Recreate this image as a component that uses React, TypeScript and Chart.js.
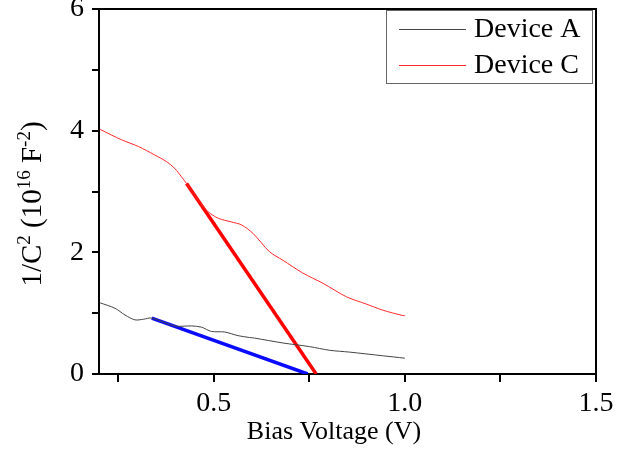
import React, { useEffect, useRef } from "react";
import { Chart, registerables } from "chart.js";

Chart.register(...registerables);

const deviceAX = [0.203, 0.242, 0.268, 0.294, 0.316, 0.338, 0.398, 0.442, 0.468, 0.494, 0.529, 0.564, 0.594, 0.607, 0.681, 0.751, 0.803, 0.855, 0.942, 1.0];
const deviceAY = [1.17, 1.08, 0.97, 0.89, 0.9, 0.92, 0.79, 0.79, 0.77, 0.7, 0.69, 0.63, 0.6, 0.59, 0.51, 0.45, 0.39, 0.36, 0.3, 0.26];

const deviceCX = [0.203, 0.259, 0.303, 0.346, 0.377, 0.398, 0.416, 0.429, 0.459, 0.485, 0.512, 0.546, 0.573, 0.603, 0.646, 0.681, 0.733, 0.786, 0.847, 0.899, 0.942, 0.995, 1.0];
const deviceCY = [4.02, 3.85, 3.74, 3.6, 3.49, 3.38, 3.24, 3.13, 2.86, 2.67, 2.56, 2.5, 2.45, 2.31, 2.01, 1.87, 1.66, 1.49, 1.27, 1.15, 1.05, 0.96, 0.96];

const fitAX = [0.338, 0.746];
const fitAY = [0.92, 0];
const fitCX = [0.429, 0.768];
const fitCY = [3.13, 0];

const xTicks = [0.25, 0.5, 0.75, 1.0, 1.25, 1.5];
const xLabelTicks = [0.5, 1.0, 1.5];
const yTicks = [0, 1, 2, 3, 4, 5, 6];
const yLabelTicks = [0, 2, 4, 6];

const legendLabels = ["Device A", "Device C"];
const legendColors = ["#444444", "#ff2a2a"];

const xTitle = "Bias Voltage (V)";
// y title pieces: [text, isSuperscript]
const yTitleParts: [string, boolean][] = [
  ["1/C", false],
  ["2", true],
  [" (10", false],
  ["16", true],
  [" F", false],
  ["-2", true],
  [")", false],
];

const pts = (xs: number[], ys: number[]) => xs.map((x, i) => ({ x, y: ys[i] }));

const SERIF = "'Liberation Serif', 'Times New Roman', serif";

const decorPlugin = {
  id: "decor",
  afterDraw(chart: any) {
    const { ctx, chartArea } = chart;
    const { left, right, top, bottom } = chartArea;
    ctx.save();
    // top and right frame
    ctx.strokeStyle = "#000";
    ctx.lineWidth = 2;
    ctx.beginPath();
    ctx.moveTo(left - 1, top);
    ctx.lineTo(right, top);
    ctx.lineTo(right, bottom + 1);
    ctx.stroke();

    // legend box
    const bx = 386, by = 10, bw = 206, bh = 73;
    ctx.fillStyle = "#fff";
    ctx.fillRect(bx, by, bw, bh);
    ctx.strokeStyle = "#666";
    ctx.lineWidth = 1;
    ctx.strokeRect(bx + 0.5, by + 0.5, bw, bh);
    ctx.font = `28px ${SERIF}`;
    ctx.textBaseline = "middle";
    ctx.textAlign = "left";
    legendLabels.forEach((lab, i) => {
      const yy = 29 + i * 36;
      ctx.strokeStyle = legendColors[i];
      ctx.lineWidth = 1;
      ctx.beginPath();
      ctx.moveTo(399, yy + 0.5);
      ctx.lineTo(466, yy + 0.5);
      ctx.stroke();
      ctx.fillStyle = "#000";
      ctx.fillText(lab, 474, yy + 1);
    });

    // x title
    ctx.fillStyle = "#000";
    ctx.font = `26px ${SERIF}`;
    ctx.textAlign = "center";
    ctx.textBaseline = "alphabetic";
    ctx.fillText(xTitle, 334, 439);

    // y title with superscripts
    const mainF = `29px ${SERIF}`;
    const supF = `19px ${SERIF}`;
    let total = 0;
    yTitleParts.forEach(([t, sup]) => {
      ctx.font = sup ? supF : mainF;
      total += ctx.measureText(t).width;
    });
    ctx.translate(41, 204);
    ctx.rotate(-Math.PI / 2);
    ctx.textAlign = "left";
    let px = -total / 2;
    yTitleParts.forEach(([t, sup]) => {
      ctx.font = sup ? supF : mainF;
      ctx.fillText(t, px, sup ? -11 : 0);
      px += ctx.measureText(t).width;
    });
    ctx.restore();
  },
};

export default function App() {
  const ref = useRef<HTMLCanvasElement | null>(null);
  useEffect(() => {
    if (!ref.current) return;
    const chart = new Chart(ref.current, {
      type: "scatter",
      data: {
        datasets: [
          {
            label: "Device A",
            data: pts(deviceAX, deviceAY),
            showLine: true,
            borderColor: "#444444",
            borderWidth: 1,
            pointRadius: 0,
            tension: 0.3,
          },
          {
            label: "Device C",
            data: pts(deviceCX, deviceCY),
            showLine: true,
            borderColor: "#ff2a2a",
            borderWidth: 1,
            pointRadius: 0,
            tension: 0.3,
          },
          {
            label: "Fit A",
            data: pts(fitAX, fitAY),
            showLine: true,
            borderColor: "#0a0aff",
            borderWidth: 3.5,
            pointRadius: 0,
          },
          {
            label: "Fit C",
            data: pts(fitCX, fitCY),
            showLine: true,
            borderColor: "#ff0000",
            borderWidth: 3.5,
            pointRadius: 0,
          },
        ],
      },
      options: {
        animation: false,
        responsive: false,
        maintainAspectRatio: false,
        layout: { padding: { top: 9, right: 30, left: 0, bottom: 0 } },
        plugins: { legend: { display: false }, tooltip: { enabled: false } },
        scales: {
          x: {
            type: "linear",
            min: 0.2,
            max: 1.5,
            afterBuildTicks: (s: any) => {
              s.ticks = xTicks.map((v) => ({ value: v }));
            },
            afterFit: (s: any) => {
              s.height = 76;
              s.paddingLeft = 0;
              s.paddingRight = 0;
            },
            ticks: {
              autoSkip: false,
              maxRotation: 0,
              color: "#000",
              padding: 5,
              font: { family: SERIF, size: 28 },
              callback: (v: any) => (xLabelTicks.some((t) => Math.abs(t - v) < 1e-6) ? Number(v).toFixed(1) : ""),
            },
            grid: { drawOnChartArea: false, drawTicks: true, tickLength: 8, color: "#000", lineWidth: 2 },
            border: { display: true, color: "#000", width: 2 },
          },
          y: {
            type: "linear",
            min: 0,
            max: 6,
            afterBuildTicks: (s: any) => {
              s.ticks = yTicks.map((v) => ({ value: v }));
            },
            afterFit: (s: any) => {
              s.width = 99;
              s.paddingTop = 0;
              s.paddingBottom = 0;
            },
            ticks: {
              autoSkip: false,
              color: "#000",
              padding: 8,
              font: { family: SERIF, size: 28 },
              callback: (v: any) => (yLabelTicks.includes(Number(v)) ? String(v) : ""),
            },
            grid: { drawOnChartArea: false, drawTicks: true, tickLength: 7, color: "#000", lineWidth: 2 },
            border: { display: true, color: "#000", width: 2 },
          },
        },
      },
      plugins: [decorPlugin],
    });
    return () => chart.destroy();
  }, []);
  return (
    <div style={{ position: "absolute", left: 0, top: 0, width: 626, height: 450, background: "#fff" }}>
      <canvas ref={ref} width={626} height={450} style={{ width: 626, height: 450 }} />
    </div>
  );
}
